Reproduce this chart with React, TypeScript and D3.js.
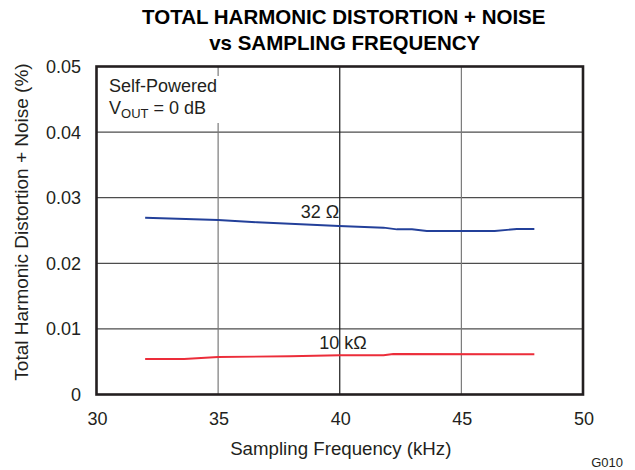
import React from 'react';
import * as d3 from 'd3';

// 32 ohm load
const freq32 = [32, 35, 36.6, 39.97, 41.8, 42.35, 42.97, 43.58, 46.37, 47.28, 48];
const thd32 = [0.02695, 0.0266, 0.02625, 0.02569, 0.02543, 0.02518, 0.02518, 0.02492, 0.02492, 0.02523, 0.02523];

// 10 kohm load
const freq10k = [32, 33.6, 35, 37.95, 40, 41.8, 42.2, 48];
const thd10k = [0.00541, 0.00541, 0.00572, 0.00582, 0.00598, 0.00598, 0.00617, 0.00613];

const xTicks = [30, 35, 40, 45, 50];
const yTicks = [0, 0.01, 0.02, 0.03, 0.04, 0.05];
const yTickLabels = ['0', '0.01', '0.02', '0.03', '0.04', '0.05'];

const W = 635;
const H = 470;
const margin = { top: 66.5, right: 52, bottom: 75.5, left: 96.5 };
const font = "'Liberation Sans', Arial, Helvetica, sans-serif";
const ink = '#231f20';

const App: React.FC = () => {
  const x = d3.scaleLinear().domain([30, 50]).range([margin.left, W - margin.right]);
  const y = d3.scaleLinear().domain([0, 0.05]).range([H - margin.bottom, margin.top]);

  const line = d3.line<[number, number]>()
    .x(d => x(d[0]))
    .y(d => y(d[1]));

  const pts32 = freq32.map((f, i) => [f, thd32[i]] as [number, number]);
  const pts10k = freq10k.map((f, i) => [f, thd10k[i]] as [number, number]);

  const [x0, x1] = x.range();
  const [y0, y1] = y.range();
  const cx = (x0 + x1) / 2;

  return (
    <svg width={W} height={H} style={{ position: 'absolute', left: 0, top: 0, background: '#fff' }}
      fontFamily={font} fill={ink}>
      {/* title */}
      <text x={cx + 4} y={24} textAnchor="middle" fontSize={20.5} fontWeight="bold" fill="#000">
        TOTAL HARMONIC DISTORTION + NOISE
      </text>
      <text x={cx + 5} y={50} textAnchor="middle" fontSize={20.5} fontWeight="bold" fill="#000">
        vs SAMPLING FREQUENCY
      </text>

      {/* grid */}
      {yTicks.slice(1, -1).map(t => (
        <line key={'h' + t} x1={x0} x2={x1} y1={y(t)} y2={y(t)} stroke="#4d4d4d" strokeWidth={1.2} />
      ))}
      {xTicks.slice(1, -1).map(t => (
        <line key={'v' + t} x1={x(t)} x2={x(t)} y1={y1} y2={y0}
          stroke={t === 40 ? '#1a1a1a' : '#7a7a7a'} strokeWidth={1.2} />
      ))}

      {/* annotation box */}
      <rect x={x0 + 2} y={76} width={126} height={47} fill="#fff" />
      <text x={109} y={92} fontSize={18}>Self-Powered</text>
      <text x={109} y={114} fontSize={18}>
        V<tspan fontSize={13} dy={4}>OUT</tspan><tspan dy={-4}> = 0 dB</tspan>
      </text>

      {/* series */}
      <path d={line(pts32) ?? ''} fill="none" stroke="#23409a" strokeWidth={1.9} />
      <path d={line(pts10k) ?? ''} fill="none" stroke="#ec2d3a" strokeWidth={1.9} />
      <text x={320} y={218} textAnchor="middle" fontSize={18}>32 Ω</text>
      <text x={343} y={349} textAnchor="middle" fontSize={18}>10 kΩ</text>

      {/* frame */}
      <rect x={x0} y={y1} width={x1 - x0} height={y0 - y1} fill="none" stroke="#231f20" strokeWidth={2.6} />

      {/* y ticks */}
      {yTicks.map((t, i) => (
        <text key={'yt' + t} x={81} y={y(t) + 6.5} textAnchor="end" fontSize={18}>{yTickLabels[i]}</text>
      ))}
      {/* x ticks */}
      {xTicks.map(t => (
        <text key={'xt' + t} x={x(t) + 1} y={425} textAnchor="middle" fontSize={18}>{t}</text>
      ))}

      <text x={cx + 1} y={455} textAnchor="middle" fontSize={18.7}>Sampling Frequency (kHz)</text>
      <text transform="translate(28,222) rotate(-90)" textAnchor="middle" fontSize={19}>
        Total Harmonic Distortion + Noise (%)
      </text>
      <text x={623} y={467} textAnchor="end" fontSize={13}>G010</text>
    </svg>
  );
};

export default App;
